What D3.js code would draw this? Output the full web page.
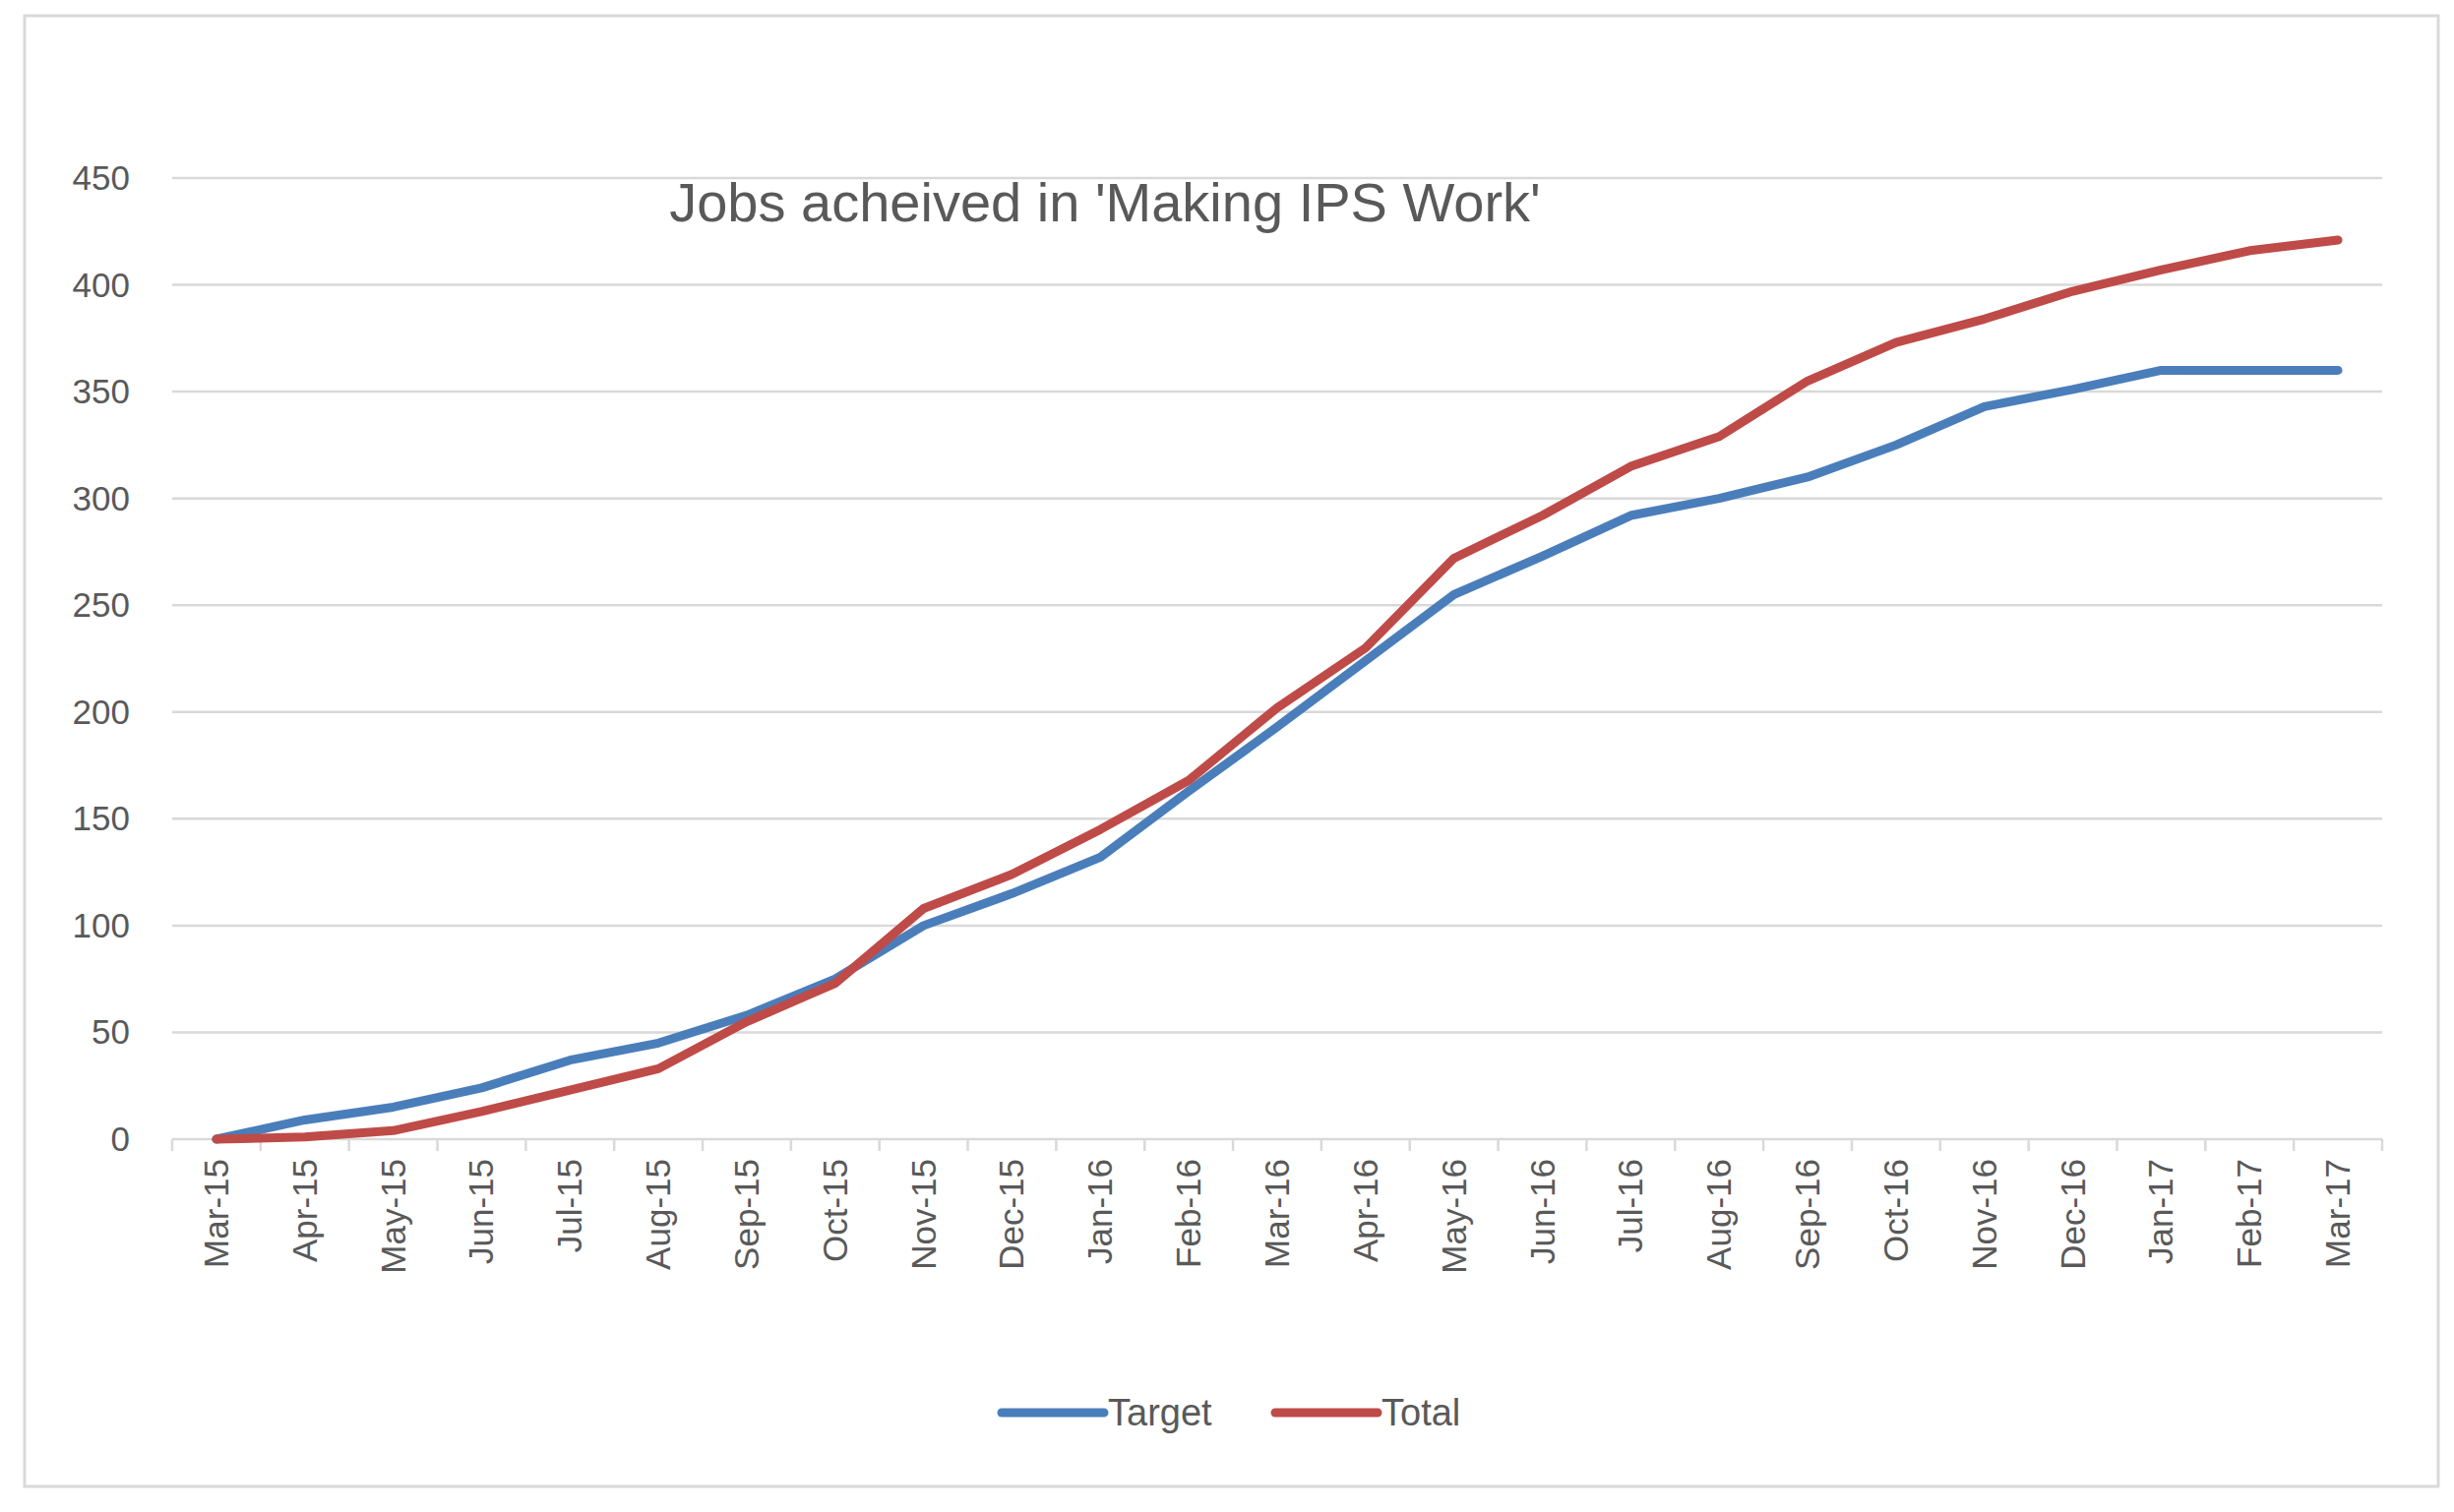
<!DOCTYPE html>
<html><head><meta charset="utf-8">
<script src="https://cdn.jsdelivr.net/npm/d3@7"></script>
<style>body{margin:0;background:#fff}text{font-family:"Liberation Sans",Arial,sans-serif;fill:#595959}</style>
</head><body><svg id="c" width="2494" height="1537"></svg>
<script>
const months = ["Mar-15","Apr-15","May-15","Jun-15","Jul-15","Aug-15","Sep-15","Oct-15","Nov-15","Dec-15","Jan-16","Feb-16","Mar-16","Apr-16","May-16","Jun-16","Jul-16","Aug-16","Sep-16","Oct-16","Nov-16","Dec-16","Jan-17","Feb-17","Mar-17"];
const target = [0,9,15,24,37,45,58,75,100,115,132,163,193,224,255,273,292,300,310,325,343,351,360,360,360];
const total = [0,1,4,13,23,33,55,73,108,124,145,168,202,230,272,292,315,329,355,373,384,397,407,416,421];
const yTicks = [0,50,100,150,200,250,300,350,400,450];

const svg = d3.select("#c");
svg.append("rect").attr("x",25).attr("y",16).attr("width",2453).attr("height",1495)
  .attr("fill","#fff").attr("stroke","#d9d9d9").attr("stroke-width",3);

const x = d3.scalePoint().domain(months).range([175,2421]).padding(0.5);
const y = d3.scaleLinear().domain([0,450]).range([1158,181]);

// grid
svg.append("g").selectAll("line").data(yTicks.slice(1)).join("line")
  .attr("x1",175).attr("x2",2421).attr("y1",d=>y(d)).attr("y2",d=>y(d))
  .attr("stroke","#d9d9d9").attr("stroke-width",2.5);

// y labels
svg.append("g").selectAll("text").data(yTicks).join("text")
  .attr("x",132).attr("y",d=>y(d)+12).attr("text-anchor","end")
  .attr("font-size",35).text(d=>d);

// x axis
svg.append("line").attr("x1",175).attr("x2",2421).attr("y1",y(0)).attr("y2",y(0))
  .attr("stroke","#d9d9d9").attr("stroke-width",2.5);
const step = x.step();
svg.append("g").selectAll("line").data(d3.range(months.length+1)).join("line")
  .attr("x1",i=>175+i*step).attr("x2",i=>175+i*step)
  .attr("y1",y(0)).attr("y2",y(0)+12).attr("stroke","#d9d9d9").attr("stroke-width",2.5);
svg.append("g").selectAll("text").data(months).join("text")
  .attr("transform",d=>`translate(${x(d)+12},${y(0)+20}) rotate(-90)`)
  .attr("text-anchor","end").attr("font-size",35).text(d=>d);

// lines
const line = d3.line().x((d,i)=>x(months[i])).y(d=>y(d));
svg.append("path").datum(target).attr("d",line).attr("fill","none")
  .attr("stroke","#4a7ebb").attr("stroke-width",9).attr("stroke-linejoin","round").attr("stroke-linecap","round");
svg.append("path").datum(total).attr("d",line).attr("fill","none")
  .attr("stroke","#be4b48").attr("stroke-width",9).attr("stroke-linejoin","round").attr("stroke-linecap","round");

// title
svg.append("text").attr("x",1123).attr("y",225).attr("text-anchor","middle")
  .attr("font-size",56).text("Jobs acheived in 'Making IPS Work'");

// legend
const leg = [{n:"Target",c:"#4a7ebb",x:1018},{n:"Total",c:"#be4b48",x:1296}];
leg.forEach(l=>{
  svg.append("line").attr("x1",l.x).attr("x2",l.x+104).attr("y1",1436).attr("y2",1436)
    .attr("stroke",l.c).attr("stroke-width",9).attr("stroke-linecap","round");
  svg.append("text").attr("x",l.x+108).attr("y",1449).attr("font-size",38).text(l.n);
});
</script></body></html>
